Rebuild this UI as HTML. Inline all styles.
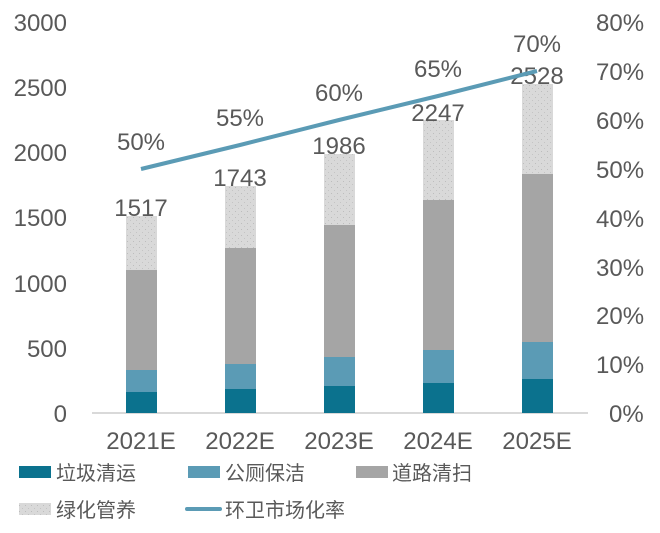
<!DOCTYPE html>
<html><head><meta charset="utf-8"><style>
body{margin:0;background:#fff;}
svg text{font-family:"Liberation Sans","Noto Sans CJK SC",sans-serif;fill:#595959;}
</style></head><body>
<svg width="660" height="528" viewBox="0 0 660 528" xmlns="http://www.w3.org/2000/svg">
<defs>
<pattern id="dots" width="6" height="6" patternUnits="userSpaceOnUse">
<rect width="6" height="6" fill="#d9d9d9"/><rect x="1" y="1" width="1" height="1" fill="#bdbdbd"/><rect x="4" y="4" width="1" height="1" fill="#c4c4c4"/>
</pattern>
</defs>
<g font-size="24" text-anchor="end">
<text x="67" y="31">3000</text><text x="67" y="96">2500</text><text x="67" y="161">2000</text>
<text x="67" y="226">1500</text><text x="67" y="292">1000</text><text x="67" y="357">500</text><text x="67" y="422">0</text>
</g>
<g font-size="24" text-anchor="start">
<text x="596" y="31">80%</text><text x="596" y="80">70%</text><text x="596" y="129">60%</text>
<text x="596" y="178">50%</text><text x="596" y="227">40%</text><text x="596" y="276">30%</text>
<text x="596" y="324">20%</text><text x="596" y="373">10%</text><text x="609" y="422">0%</text>
</g>
<line x1="92" y1="413" x2="588" y2="413" stroke="#d9d9d9" stroke-width="2"/>
<g>
<rect x="126" y="216" width="31" height="54" fill="url(#dots)"/><rect x="126" y="270" width="31" height="100" fill="#a5a5a5"/><rect x="126" y="370" width="31" height="22" fill="#5b9bb5"/><rect x="126" y="392" width="31" height="21" fill="#0b728e"/>
<rect x="225" y="186" width="31" height="62" fill="url(#dots)"/><rect x="225" y="248" width="31" height="116" fill="#a5a5a5"/><rect x="225" y="364" width="31" height="25" fill="#5b9bb5"/><rect x="225" y="389" width="31" height="24" fill="#0b728e"/>
<rect x="324" y="154" width="31" height="71" fill="url(#dots)"/><rect x="324" y="225" width="31" height="132" fill="#a5a5a5"/><rect x="324" y="357" width="31" height="29" fill="#5b9bb5"/><rect x="324" y="386" width="31" height="27" fill="#0b728e"/>
<rect x="423" y="120" width="31" height="80" fill="url(#dots)"/><rect x="423" y="200" width="31" height="150" fill="#a5a5a5"/><rect x="423" y="350" width="31" height="33" fill="#5b9bb5"/><rect x="423" y="383" width="31" height="30" fill="#0b728e"/>
<rect x="522" y="84" width="31" height="90" fill="url(#dots)"/><rect x="522" y="174" width="31" height="168" fill="#a5a5a5"/><rect x="522" y="342" width="31" height="37" fill="#5b9bb5"/><rect x="522" y="379" width="31" height="34" fill="#0b728e"/>
</g>
<g font-size="24" text-anchor="middle" style="fill:#404040">
<text x="141" y="216">1517</text><text x="240" y="186">1743</text><text x="339" y="154">1986</text><text x="438" y="121">2247</text><text x="537" y="84">2528</text>
<text x="141" y="150">50%</text><text x="240" y="126">55%</text><text x="339" y="101">60%</text><text x="438" y="77">65%</text><text x="537" y="52">70%</text>
</g>
<polyline points="141,169 240,145 339,120 438,96 537,71" fill="none" stroke="#5b9bb5" stroke-width="4"/>
<g font-size="24" text-anchor="middle">
<text x="141" y="449">2021E</text><text x="240" y="449">2022E</text><text x="339" y="449">2023E</text><text x="438" y="449">2024E</text><text x="537" y="449">2025E</text>
</g>
<g font-size="20" style="fill:#404040">
<rect x="19" y="466" width="32" height="12" fill="#0b728e"/><text x="56" y="480">垃圾清运</text>
<rect x="188" y="466" width="32" height="12" fill="#5b9bb5"/><text x="225" y="480">公厕保洁</text>
<rect x="356" y="466" width="32" height="12" fill="#a5a5a5"/><text x="392" y="480">道路清扫</text>
<rect x="19" y="503" width="32" height="12" fill="url(#dots)"/><text x="56" y="517">绿化管养</text>
<line x1="187" y1="509" x2="220" y2="509" stroke="#5b9bb5" stroke-width="4" stroke-linecap="round"/><text x="225" y="517">环卫市场化率</text>
</g>
</svg>
</body></html>
